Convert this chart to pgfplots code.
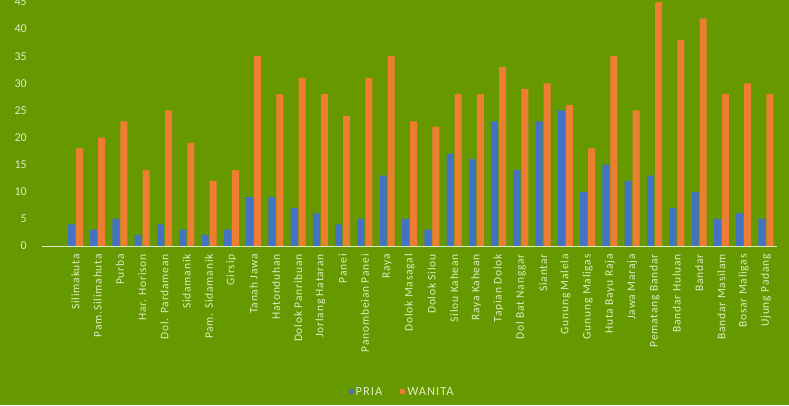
\documentclass[border=0pt]{standalone}
\usepackage{pgfplots}
\pgfplotsset{compat=1.18}
\usepackage{pgfplotstable}
\usepackage{fontspec}
\setmainfont{Carlito}
\definecolor{bg}{RGB}{102,153,0}
\definecolor{pria}{RGB}{68,114,196}
\definecolor{wanita}{RGB}{237,125,49}
\definecolor{txt}{RGB}{222,236,196}
\pgfplotstableread{
x pria wanita
0 4 18
1 3 20
2 5 23
3 2 14
4 4 25
5 3 19
6 2 12
7 3 14
8 9 35
9 9 28
10 7 31
11 6 28
12 4 24
13 5 31
14 13 35
15 5 23
16 3 22
17 17 28
18 16 28
19 23 33
20 14 29
21 23 30
22 25 26
23 10 18
24 15 35
25 12 25
26 13 46
27 7 38
28 10 42
29 5 28
30 6 30
31 5 28
}\data
\begin{document}
\begin{tikzpicture}
\useasboundingbox (0,0) rectangle (789pt,405pt);
\fill[bg] (0,0) rectangle (789pt,405pt);
\begin{axis}[
  at={(42pt,159pt)}, anchor=south west,
  scale only axis, width=735pt, height=244pt,
  xmin=-1.5, xmax=31.5, ymin=0, ymax=45,
  clip=true,
  axis line style={draw=none},
  axis x line*=bottom,
  axis y line*=left,
  xtick={0,...,31},
  xticklabels={Silimakuta,Pam.Silimahuta,Purba,Har. Horison,Dol. Pardamean,Sidamanik,Pam. Sidamanik,Girsip,Tanah Jawa,Hatonduhan,Dolok Panribuan,Jorlang Hataran,Panei,Panombeian Panei,Raya,Dolok Masagal,Dolok Silou,Silou Kahean,Raya Kahean,Tapian Dolok,Dol Bat Nanggar,Siantar,Gunung Malela,Gunung Maligas,Huta Bayu Raja,Jawa Maraja,Pematang Bandar,Bandar Huluan,Bandar,Bandar Masilam,Bosar Maligas,Ujung Padang},
  x tick label style={rotate=90, anchor=east, font=\fontsize{11.5}{13}\selectfont\addfontfeatures{LetterSpace=7}, text=txt, inner sep=1pt},
  xticklabel shift=7pt,
  ytick={0,5,...,45},
  y tick label style={font=\fontsize{12}{14}\selectfont, text=txt, anchor=east, inner sep=0pt},
  /pgf/number format/assume math mode=true,
  major tick length=0pt,
  yticklabel shift=15pt,
  legend style={at={(axis description cs:0.49,-0.598)}, anchor=center, draw=none, fill=none, text=txt, font=\fontsize{12.5}{14}\selectfont\addfontfeatures{LetterSpace=8}, legend columns=2, /tikz/every even column/.append style={column sep=16pt}},
  legend image code/.code={\fill (3pt,-2.5pt) rectangle (8pt,2.5pt);},
]
\addplot[ybar, bar width=7pt, bar shift=-4pt, fill=pria, draw=none] table[x=x,y=pria] {\data};
\addlegendentry{PRIA}
\addplot[ybar, bar width=7pt, bar shift=4pt, fill=wanita, draw=none] table[x=x,y=wanita] {\data};
\addlegendentry{WANITA}
\draw[txt, line width=0.8pt] (axis cs:-1.5,0) -- (axis cs:31.5,0);
\end{axis}
\end{tikzpicture}
\end{document}
